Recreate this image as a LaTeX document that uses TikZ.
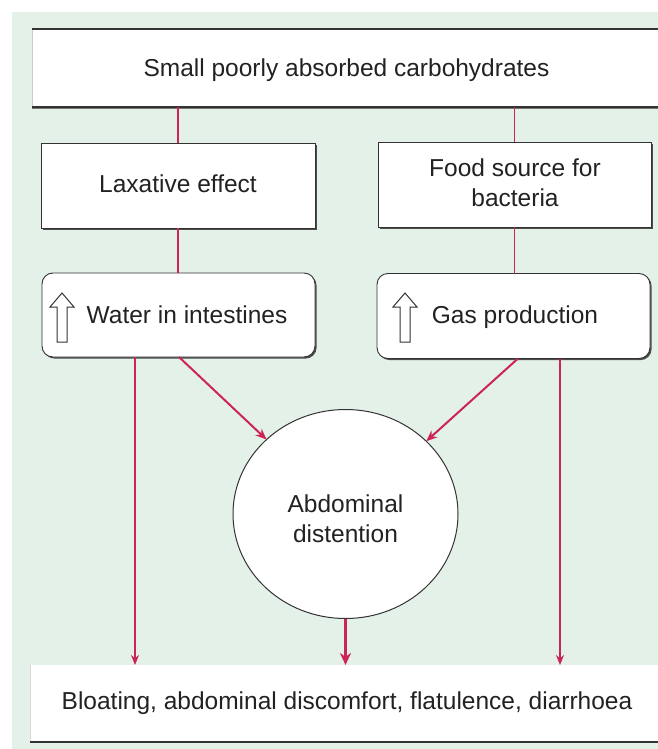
\documentclass[tikz,border=0pt]{standalone}
\usepackage{fontspec}
\setmainfont{Liberation Sans}
\usetikzlibrary{shapes.geometric,arrows.meta,shadows}
\definecolor{bggreen}{HTML}{E4F1E8}
\definecolor{linkred}{HTML}{CC2454}
\definecolor{boxline}{HTML}{333333}
\definecolor{txt}{HTML}{222222}
\begin{document}
\begin{tikzpicture}[x=1pt,y=-1pt,
  every node/.style={inner sep=0pt, outer sep=0pt},
  txtstyle/.style={text=txt, font=\fontsize{24.5}{30}\selectfont, align=center},
  plainbox/.style={rectangle, draw=boxline, line width=0.9pt, fill=white,
    drop shadow={shadow xshift=1.6pt, shadow yshift=-1.6pt, fill=black!70, opacity=1}},
  roundbox/.style={plainbox, rounded corners=11pt},
  widebox/.style={rectangle, fill=white},
  edgeline/.style={draw=boxline, line width=1.6pt},
  link/.style={draw=linkred, line width=1.8pt},
  thinlink/.style={draw=linkred, line width=1.3pt, -{Stealth[length=10pt,width=8pt]}},
  diaglink/.style={draw=linkred, line width=2pt, -{Stealth[length=11pt,width=9pt]}},
  boldlink/.style={draw=linkred, line width=3pt, -{Stealth[length=12pt,width=11pt]}},
  upicon/.pic={\draw[draw=boxline, line width=1pt, fill=white]
      (0,-24.5) -- (12,-10.5) -- (5,-10.5) -- (5,24.5) -- (-5,24.5) -- (-5,-10.5) -- (-12,-10.5) -- cycle;}
]
\clip (0,0) rectangle (658,749);
\fill[bggreen] (12,12) rectangle (658,749);

% top box
\node[widebox, minimum width=650pt, minimum height=78pt] (top) at (357,68) {};
\draw[black!20, line width=0.6pt] (top.north west) -- (top.south west);
\draw[edgeline] (top.north west) -- (top.north east);
\draw[black!55, line width=1.5pt] ([yshift=-1.6pt]top.south west) -- ([yshift=-1.6pt]top.south east);
\draw[edgeline] (top.south west) -- (top.south east);
\node[txtstyle, anchor=base] (toptext) at (346.5,77) {Small poorly absorbed carbohydrates};

% second row
\node[plainbox, minimum width=274pt, minimum height=85pt] (lax) at (178,185.5) {};
\node[txtstyle, anchor=base] (laxtext) at (178,192) {Laxative effect};
\node[plainbox, minimum width=273pt, minimum height=85pt] (food) at (514.5,184.5) {};
\node[txtstyle] (foodtext) at (515,183) {Food source for\\bacteria};

% third row
\node[roundbox, minimum width=273pt, minimum height=84pt] (water) at (178.5,315) {};
\pic at (62,317.5) {upicon};
\node[txtstyle, anchor=base] (watertext) at (187,323) {Water in intestines};
\node[roundbox, minimum width=273pt, minimum height=85pt] (gas) at (513.5,316) {};
\pic at (405,317.5) {upicon};
\node[txtstyle, anchor=base] (gastext) at (515,323) {Gas production};

% circle
\node[ellipse, draw=boxline, line width=1pt, fill=white, minimum width=225pt, minimum height=209pt] (circ) at (345.5,514) {};
\node[txtstyle] (circtext) at (345.5,519) {Abdominal\\distention};

% bottom box
\node[widebox, minimum width=650pt, minimum height=77pt] (bot) at (355,703.5) {};
\draw[black!15, line width=0.6pt] (bot.north west) -- (bot.south west);
\draw[edgeline, line width=2.4pt] (bot.south west) -- (bot.south east);
\node[txtstyle, anchor=base] (bottext) at (347,709) {Bloating, abdominal discomfort, flatulence, diarrhoea};

% connectors
\draw[link] (top.south -| lax.north) -- (lax.north);
\draw[link] (lax.south) -- (lax.south |- water.north);
\draw[link, line width=1.4pt] (top.south -| food.north) -- (food.north);
\draw[link, line width=1.4pt] (food.south) -- (food.south |- gas.north);
\draw[thinlink] ([xshift=-43.5pt]water.south) -- ([xshift=-43.5pt]water.south |- bot.north);
\draw[thinlink] ([xshift=46.5pt]gas.south) -- ([xshift=46.5pt]gas.south |- bot.north);
\draw[diaglink] ([xshift=0.5pt]water.south) -- (circ);
\draw[diaglink] ([xshift=4.5pt]gas.south) -- (circ);
\draw[boldlink] (circ.south) -- (circ.south |- bot.north);
\end{tikzpicture}
\end{document}
